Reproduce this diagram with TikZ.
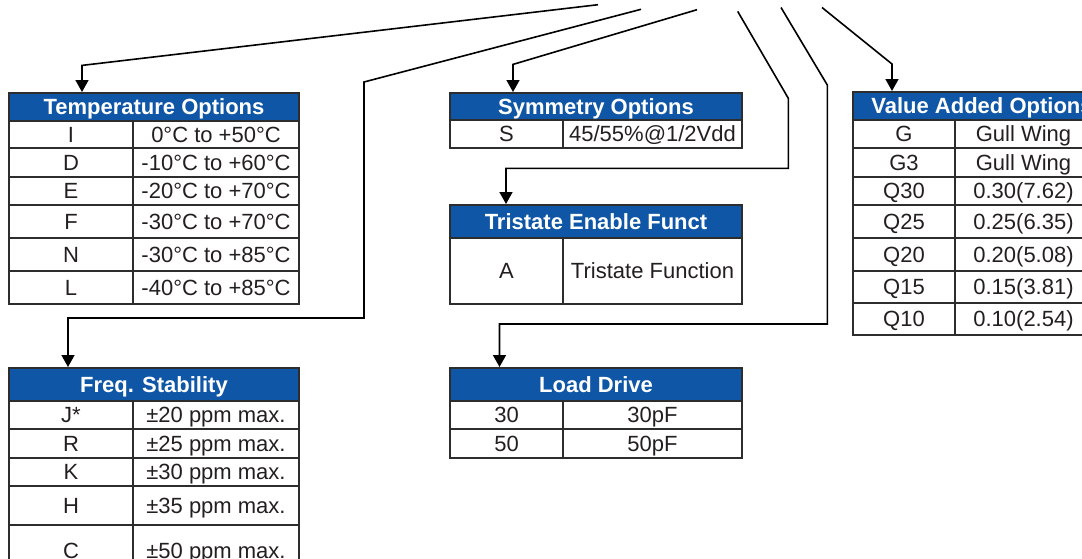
\documentclass[tikz,border=0pt]{standalone}
\usepackage{fontspec}
\setmainfont{Liberation Sans}
\usetikzlibrary{positioning}
\usetikzlibrary{arrows.meta}
\definecolor{hdrblue}{RGB}{16,86,166}
\definecolor{gridgray}{RGB}{45,45,45}
\definecolor{inkgray}{RGB}{35,31,32}

\begin{document}
\begin{tikzpicture}[
    x=1pt, y=-1pt,
    font=\fontsize{22pt}{26pt}\selectfont
]
\tikzset{
    hdr/.style = {rectangle, draw=gridgray, line width=2pt, fill=hdrblue, text=white,
                  font=\fontsize{22pt}{26pt}\selectfont\bfseries, anchor=north west,
                  inner sep=0pt, text height=15.8pt, text depth=0pt},
    cell/.style = {rectangle, draw=gridgray, line width=2pt, text=inkgray, anchor=north west,
                   inner sep=0pt, text height=15.8pt, text depth=0pt},
    edgen/.style = {-{Triangle[width=13pt,length=12pt]}, line width=1.6pt}
}
\useasboundingbox (0,0) rectangle (1082,558);
\clip (0,0) rectangle (1082,558);

% Temperature Options
\node[hdr, minimum width=290pt, minimum height=28pt] at (8,92) (temp) {Temperature Options};
\node[cell, minimum width=124pt, minimum height=27pt] at (8,120)   (tIa) {I};
\node[cell, minimum width=166pt, minimum height=27pt] at (132,120) (tIb) {0°C to +50°C};
\node[cell, minimum width=124pt, minimum height=29pt] at (8,147)   (tDa) {D};
\node[cell, minimum width=166pt, minimum height=29pt] at (132,147) (tDb) {-10°C to +60°C};
\node[cell, minimum width=124pt, minimum height=28pt] at (8,176)   (tEa) {E};
\node[cell, minimum width=166pt, minimum height=28pt] at (132,176) (tEb) {-20°C to +70°C};
\node[cell, minimum width=124pt, minimum height=33pt] at (8,204)   (tFa) {F};
\node[cell, minimum width=166pt, minimum height=33pt] at (132,204) (tFb) {-30°C to +70°C};
\node[cell, minimum width=124pt, minimum height=33pt] at (8,237)   (tNa) {N};
\node[cell, minimum width=166pt, minimum height=33pt] at (132,237) (tNb) {-30°C to +85°C};
\node[cell, minimum width=124pt, minimum height=33pt] at (8,270)   (tLa) {L};
\node[cell, minimum width=166pt, minimum height=33pt] at (132,270) (tLb) {-40°C to +85°C};

% Freq. Stability
\node[hdr, minimum width=290pt, minimum height=33pt] at (8,367) (freq) {Freq. Stability};
\node[cell, minimum width=124pt, minimum height=28pt] at (8,400)   (fJa) {J*};
\node[cell, minimum width=166pt, minimum height=28pt] at (132,400) (fJb) {±20 ppm max.};
\node[cell, minimum width=124pt, minimum height=29pt] at (8,428)   (fRa) {R};
\node[cell, minimum width=166pt, minimum height=29pt] at (132,428) (fRb) {±25 ppm max.};
\node[cell, minimum width=124pt, minimum height=28pt] at (8,457)   (fKa) {K};
\node[cell, minimum width=166pt, minimum height=28pt] at (132,457) (fKb) {±30 ppm max.};
\node[cell, minimum width=124pt, minimum height=39pt] at (8,485)   (fHa) {H};
\node[cell, minimum width=166pt, minimum height=39pt] at (132,485) (fHb) {±35 ppm max.};
\node[cell, minimum width=124pt, minimum height=51pt] at (8,524)   (fCa) {C};
\node[cell, minimum width=166pt, minimum height=51pt] at (132,524) (fCb) {±50 ppm max.};

% Symmetry Options
\node[hdr, minimum width=292pt, minimum height=27pt] at (449,92) (sym) {Symmetry Options};
\node[cell, minimum width=113pt, minimum height=28pt] at (449,119) (sSa) {S};
\node[cell, minimum width=179pt, minimum height=28pt] at (562,119) (sSb) {45/55\%@1/2Vdd};

% Tristate Enable Funct
\node[hdr, minimum width=292pt, minimum height=33pt] at (449,204) (tri) {Tristate Enable Funct};
\node[cell, minimum width=113pt, minimum height=66pt] at (449,237) (rAa) {A};
\node[cell, minimum width=179pt, minimum height=66pt] at (562,237) (rAb) {Tristate Function};

% Load Drive
\node[hdr, minimum width=292pt, minimum height=33pt] at (449,367) (load) {Load Drive};
\node[cell, minimum width=113pt, minimum height=28pt] at (449,400) (l30a) {30};
\node[cell, minimum width=179pt, minimum height=28pt] at (562,400) (l30b) {30pF};
\node[cell, minimum width=113pt, minimum height=29pt] at (449,428) (l50a) {50};
\node[cell, minimum width=179pt, minimum height=29pt] at (562,428) (l50b) {50pF};

% Value Added Options
\node[hdr, minimum width=258pt, minimum height=28pt] at (852,91) (vao) {Value Added Options};
\node[cell, minimum width=102pt, minimum height=28pt] at (852,119) (vGa) {G};
\node[cell, minimum width=137pt, minimum height=28pt] at (954,119) (vGb) {Gull Wing};
\node[cell, minimum width=102pt, minimum height=29pt] at (852,147) (vG3a) {G3};
\node[cell, minimum width=137pt, minimum height=29pt] at (954,147) (vG3b) {Gull Wing};
\node[cell, minimum width=102pt, minimum height=28pt] at (852,176) (v30a) {Q30};
\node[cell, minimum width=137pt, minimum height=28pt] at (954,176) (v30b) {0.30(7.62)};
\node[cell, minimum width=102pt, minimum height=33pt] at (852,204) (v25a) {Q25};
\node[cell, minimum width=137pt, minimum height=33pt] at (954,204) (v25b) {0.25(6.35)};
\node[cell, minimum width=102pt, minimum height=33pt] at (852,237) (v20a) {Q20};
\node[cell, minimum width=137pt, minimum height=33pt] at (954,237) (v20b) {0.20(5.08)};
\node[cell, minimum width=102pt, minimum height=32pt] at (852,270) (v15a) {Q15};
\node[cell, minimum width=137pt, minimum height=32pt] at (954,270) (v15b) {0.15(3.81)};
\node[cell, minimum width=102pt, minimum height=32pt] at (852,302) (v10a) {Q10};
\node[cell, minimum width=137pt, minimum height=32pt] at (954,302) (v10b) {0.10(2.54)};

% leader lines
\coordinate (s1) at (598,4.7);   \coordinate (k1) at (82,65.4);
\coordinate (s2) at (641,9.3);   \coordinate (k2) at (364,82);
\coordinate (m2) at (364,318);   \coordinate (n2) at (68,318);
\coordinate (s3) at (697,9.7);   \coordinate (k3) at (513,64.4);
\coordinate (s4) at (737.7,11.4); \coordinate (k4) at (788.3,98.3);
\coordinate (m4) at (788.3,168.3); \coordinate (n4) at (506,168.3);
\coordinate (s5) at (781,7.5);   \coordinate (k5) at (827.3,85);
\coordinate (m5) at (827.3,324); \coordinate (n5) at (499.5,324);
\coordinate (s6) at (822,7.5);   \coordinate (k6) at (892,64);

\draw[edgen] (s1) -- (k1) -- (k1 |- temp.north);
\draw[edgen] (s2) -- (k2) -- (m2) -- (n2) -- (n2 |- freq.north);
\draw[edgen] (s3) -- (k3) -- (k3 |- sym.north);
\draw[edgen] (s4) -- (k4) -- (m4) -- (n4) -- (n4 |- tri.north);
\draw[edgen] (s5) -- (k5) -- (m5) -- (n5) -- (n5 |- load.north);
\draw[edgen] (s6) -- (k6) -- (k6 |- vao.north);
\end{tikzpicture}
\end{document}
